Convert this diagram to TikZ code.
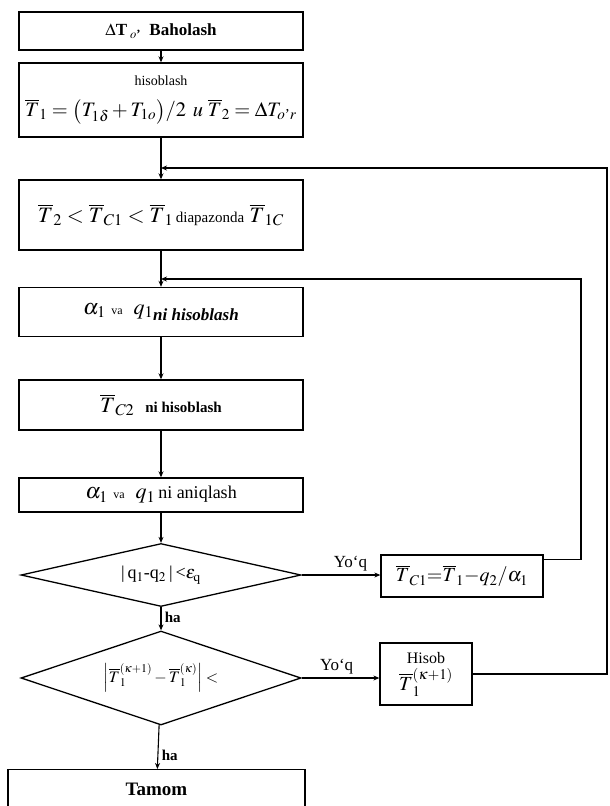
\documentclass[tikz,border=0pt]{standalone}
\usepackage{amsmath}
\usepackage{mathptmx}
\usepackage{fontspec}
\setmainfont{Liberation Serif}
\usetikzlibrary{arrows.meta,shapes.geometric,positioning}

\begin{document}
\begin{tikzpicture}[
  x=1pt, y=-1pt,
  >=Stealth,
  box/.style     ={draw,line width=1.4pt,minimum width=284pt,inner sep=2pt,
                   align=center,font=\fontsize{13}{15}\selectfont},
  dec/.style     ={draw,diamond,line width=1.3pt,minimum width=280pt,
                   inner sep=0pt,align=center,font=\fontsize{13}{15}\selectfont},
  sidebox/.style ={draw,line width=1.3pt,inner sep=2pt,align=center,
                   font=\fontsize{13}{15}\selectfont},
  flow/.style    ={-{Stealth[length=6pt,width=5pt]},line width=1.1pt},
  lbl/.style     ={font=\fontsize{17}{19}\selectfont},
]
\useasboundingbox (0,0) rectangle (610,806);
\clip (0,0) rectangle (610,806);

%% ============================================================
%%  Main column
%% ============================================================
\node[box,minimum height=38pt,font=\fontsize{17}{19}\selectfont\bfseries] (eval) at (161,31)
      {$\Delta$T\,$_{o\textrm{'}}$\ \ Baholash};
\node[box,minimum height=74pt,font=\fontsize{20.5}{24}\selectfont] (calc) at (161,100)
      {{\fontsize{14}{16}\selectfont hisoblash}\\[7pt]
       $\overline{T}_1=\bigl(T_{1\delta}+T_{1o}\bigr)/2\;\,u\;\overline{T}_2=\Delta T_{o\textrm{'}r}$};
\node[box,minimum height=70pt,font=\fontsize{22}{26}\selectfont] (range) at (161,215)
      {$\overline{T}_2<\overline{T}_{C1}<\overline{T}_1${\fontsize{15}{17}\selectfont\,diapazonda}
       $\overline{T}_{1C}$};
\node[box,minimum height=49pt,font=\fontsize{22}{26}\selectfont] (aq1) at (161,312)
      {$\alpha_1$ {\fontsize{12}{14}\selectfont va}\ \ $q_1$\raisebox{-6pt}{\fontsize{17}{19}\selectfont\bfseries\itshape ni hisoblash}};
\node[box,minimum height=50pt,font=\fontsize{22}{26}\selectfont] (tc2) at (161,405)
      {$\overline{T}_{C2}$\ \ {\fontsize{15}{17}\selectfont\bfseries ni hisoblash}};
\node[box,minimum height=34pt,font=\fontsize{22}{26}\selectfont] (aq2) at (161,495)
      {$\alpha_1$ {\fontsize{12}{14}\selectfont va}\ \ $q_1${\fontsize{18}{20}\selectfont\,ni aniqlash}};

%% decisions
\node[dec,aspect=4.4,minimum height=63pt,font=\fontsize{18}{20}\selectfont] (chk1) at (161,575)
      {|\,q$_1$-q$_2$\,|\,<$\epsilon_{\mathrm q}$};
\node[dec,aspect=3,minimum height=94pt,font=\fontsize{16}{19}\selectfont] (chk2) at (161,678)
      {$\left|\overline{T}_1^{(\kappa+1)}-\overline{T}_1^{(\kappa)}\right|<$};

\node[box,minimum width=297pt,minimum height=40pt,anchor=north,
      font=\fontsize{19}{21}\selectfont\bfseries] (stop) at (156.5,769) {Tamom};

%% ============================================================
%%  Side boxes
%% ============================================================
\node[sidebox,minimum width=162pt,minimum height=42pt,font=\fontsize{20}{24}\selectfont] (tc1) at (462,576)
      {$\overline{T}_{C1}{=}\overline{T}_1{-}q_2/\alpha_1$};
\node[sidebox,minimum width=92pt,minimum height=62pt,font=\fontsize{16}{18}\selectfont] (next) at (426,674)
      {Hisob\\[4pt]{\fontsize{20}{22}\selectfont$\overline{T}_1^{(\kappa+1)}$}};

\coordinate (j1) at (161,168);
\coordinate (j2) at (161,279);
\coordinate (r1) at (607,168);
\coordinate (r2) at (581,279);

%% ============================================================
%%  Connectors
%% ============================================================
\draw[flow] (eval) -- (calc);
\draw[flow] (calc) -- (range);
\draw[flow] (range) -- (aq1);
\draw[flow] (aq1) -- (tc2);
\draw[flow] (tc2) -- (aq2);
\draw[flow] (aq2) -- (chk1);
\draw[flow] (chk1) -- node[right,lbl,pos=0.45,font=\fontsize{15}{17}\selectfont\bfseries]{ha} (chk2);
\draw[flow] (chk2) -- node[right,lbl,pos=0.7,font=\fontsize{15}{17}\selectfont\bfseries]{ha} (stop);

\draw[flow] (chk1.east) -- node[above,lbl,pos=0.62]{Yo‘q} (chk1.east -| tc1.west);
\draw[flow] (chk2.east) -- node[above,lbl,pos=0.45]{Yo‘q} (chk2.east -| next.west);

%% loops back
\draw[flow] ([yshift=-5pt]tc1.north east) -| (r2) -- (j2);
\draw[flow] (next.east) -| (r1) -- (j1);

\end{tikzpicture}
\end{document}
